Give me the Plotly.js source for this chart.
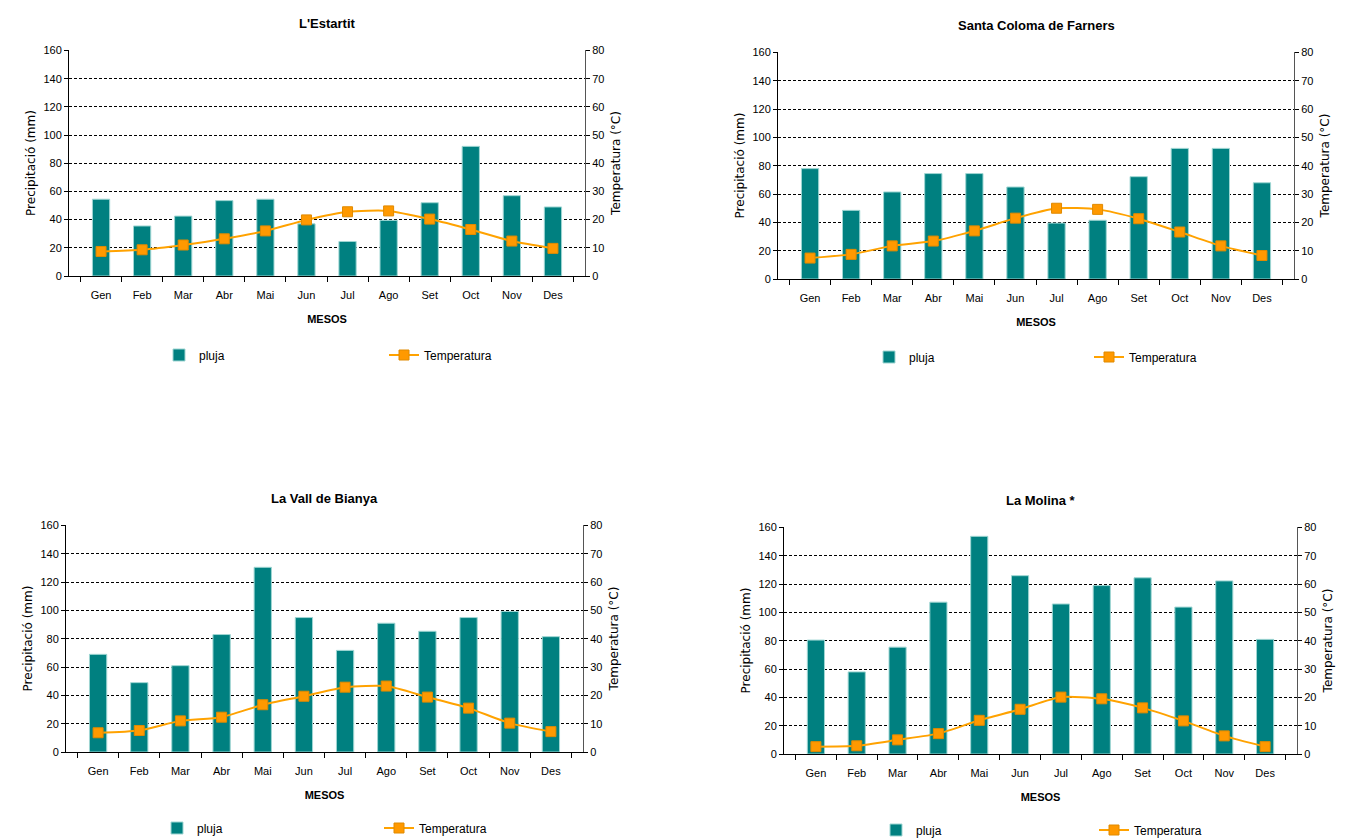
<!DOCTYPE html>
<html>
<head>
<meta charset="utf-8">
<script src="https://cdn.plot.ly/plotly-3.0.1.min.js"></script>
<style>
  html, body { margin: 0; padding: 0; background: #ffffff; }
  #chart { width: 1354px; height: 840px; }
</style>
</head>
<body>
<div id="chart"></div>
<script>
const months = ['Gen','Feb','Mar','Abr','Mai','Jun','Jul','Ago','Set','Oct','Nov','Des'];

const titles = ["L'Estartit", 'Santa Coloma de Farners', 'La Vall de Bianya', 'La Molina *'];

const estartitRain = [54.5, 35.5, 42.5, 53.5, 54.5, 37, 24.5, 39.5, 52, 92, 57, 49];
const estartitTemp = [8.7, 9.3, 11, 13.2, 16, 19.9, 22.8, 23.1, 20.2, 16.5, 12.4, 9.8];

const santaColomaRain = [78, 48.5, 61.5, 74.5, 74.5, 65, 39.5, 41.5, 72.3, 92.3, 92.3, 68];
const santaColomaTemp = [7.4, 8.7, 11.7, 13.4, 17, 21.5, 25, 24.6, 21.3, 16.6, 11.7, 8.3];

const vallBianyaRain = [69, 49, 61, 83, 130.5, 95, 71.8, 91, 85.3, 95, 99.3, 81.5];
const vallBianyaTemp = [6.8, 7.6, 11, 12.3, 16.7, 19.7, 22.9, 23.3, 19.4, 15.5, 10.2, 7.2];

const molinaRain = [80.5, 58, 75.5, 107.3, 153.8, 126, 106, 119, 124.5, 103.8, 122.3, 81];
const molinaTemp = [2.6, 2.9, 5, 7.2, 11.9, 15.8, 20.1, 19.5, 16.3, 11.7, 6.4, 2.6];

const rainSeries = [estartitRain, santaColomaRain, vallBianyaRain, molinaRain];
const tempSeries = [estartitTemp, santaColomaTemp, vallBianyaTemp, molinaTemp];

const rainTicks = [0, 20, 40, 60, 80, 100, 120, 140, 160];
const tempTicks = [0, 10, 20, 30, 40, 50, 60, 70, 80];

// layout geometry (pixels)
const W = 1354, H = 840;
const panels = [
  {x0: 69,  x1: 585,  y0: 50,  y1: 276, legY: 355, legX: 159, legX2: 394},
  {x0: 778, x1: 1294, y0: 52,  y1: 279, legY: 357, legX: 869, legX2: 1099},
  {x0: 66,  x1: 583,  y0: 525, y1: 752, legY: 828, legX: 157, legX2: 389},
  {x0: 784, x1: 1297, y0: 527, y1: 754, legY: 830, legX: 876, legX2: 1104}
];

const narrow = '"Liberation Sans", Arial, sans-serif';
const wide = '"DejaVu Sans", Verdana, sans-serif';

const data = [];
const layout = {
  width: W, height: H,
  margin: {l: 0, r: 0, t: 0, b: 0, autoexpand: false},
  paper_bgcolor: '#ffffff',
  plot_bgcolor: '#ffffff',
  showlegend: true,
  bargap: 0.58,
  annotations: []
};

panels.forEach((p, i) => {
  const n = i + 1;
  const xa = n === 1 ? 'x' : 'x' + n;
  const yl = 2 * n - 1 === 1 ? 'y' : 'y' + (2 * n - 1);
  const yr = 'y' + (2 * n);
  const legName = n === 1 ? 'legend' : 'legend' + n;

  data.push({
    type: 'bar', name: 'pluja', x: months, y: rainSeries[i],
    xaxis: xa, yaxis: yl, legend: legName,
    marker: {color: '#008080', line: {color: '#9fd6d3', width: 1}}
  });
  data.push({
    type: 'scatter', mode: 'lines+markers', name: 'Temperatura',
    x: months, y: tempSeries[i], xaxis: xa, yaxis: yr, legend: legName,
    line: {color: '#ffa200', width: 2, shape: 'spline', smoothing: 0.6},
    marker: {symbol: 'square', size: 10, color: '#ff9900', line: {color: '#e08a00', width: 1}}
  });

  const xd = [p.x0 / W, p.x1 / W];
  const yd = [(H - p.y1) / H, (H - p.y0) / H];

  layout[n === 1 ? 'xaxis' : 'xaxis' + n] = {
    domain: xd, anchor: yl, automargin: false,
    type: 'category',
    tickson: 'boundaries', ticks: 'outside', ticklen: 5, tickcolor: '#000000',
    ticklabelstandoff: 9,
    showline: true, linecolor: '#000000', linewidth: 1,
    showgrid: false, zeroline: false,
    tickfont: {family: narrow, size: 11, color: '#000000'},
    title: {text: '<b>MESOS</b>', font: {family: narrow, size: 11, color: '#000000'}, standoff: 15},
    fixedrange: true
  };
  layout[yl === 'y' ? 'yaxis' : 'yaxis' + (2 * n - 1)] = {
    domain: yd, anchor: xa, automargin: false,
    range: [0, 160.4], tickvals: rainTicks,
    ticks: 'outside', ticklen: 4, tickcolor: '#000000',
    showline: true, linecolor: '#000000', linewidth: 1,
    showgrid: true, gridcolor: '#000000', gridwidth: 1, griddash: '3px,2px',
    zeroline: false,
    tickfont: {family: narrow, size: 11, color: '#000000'},
    title: {text: 'Precipitació (mm)', font: {family: wide, size: 12, color: '#000000'}, standoff: 5},
    fixedrange: true
  };
  layout['yaxis' + (2 * n)] = {
    domain: yd, anchor: xa, overlaying: yl, side: 'right', automargin: false,
    range: [0, 80.2], tickvals: tempTicks,
    ticks: 'outside', ticklen: 4, tickcolor: '#000000',
    showline: true, linecolor: '#555555', linewidth: 1,
    showgrid: false, zeroline: false,
    tickfont: {family: narrow, size: 11, color: '#000000'},
    title: {text: 'Temperatura (°C)', font: {family: wide, size: 12, color: '#000000'}, standoff: 8},
    fixedrange: true
  };
  layout[legName] = {
    orientation: 'h',
    x: p.legX / W, xanchor: 'left',
    y: (H - p.legY) / H, yanchor: 'middle',
    entrywidth: p.legX2 - p.legX - 55, entrywidthmode: 'pixels',
    font: {family: narrow, size: 12, color: '#000000'},
    bgcolor: 'rgba(0,0,0,0)',
    itemclick: false, itemdoubleclick: false,
    tracegroupgap: 0
  };
  layout.annotations.push({
    text: '<b>' + titles[i] + '</b>',
    xref: 'paper', yref: 'paper',
    x: (p.x0 + p.x1) / 2 / W, y: (H - (p.y0 - 27)) / H,
    xanchor: 'center', yanchor: 'middle',
    showarrow: false,
    font: {family: narrow, size: 13, color: '#000000'}
  });
});

Plotly.newPlot('chart', data, layout, {displayModeBar: false, staticPlot: true});
</script>
</body>
</html>
